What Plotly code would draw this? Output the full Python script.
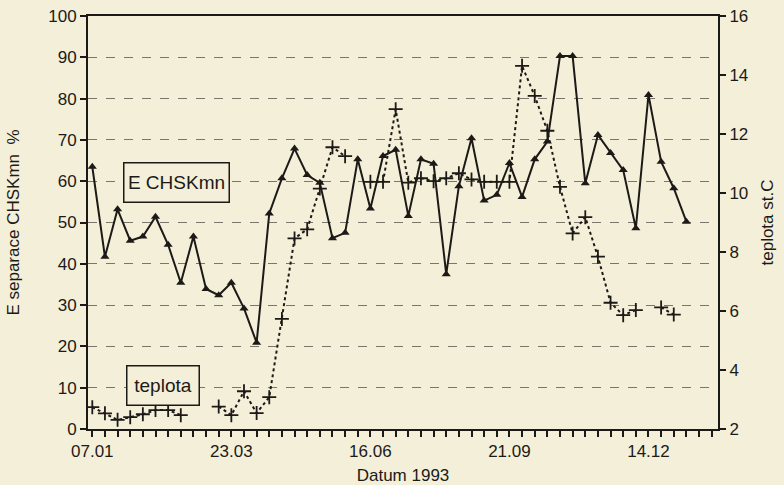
import plotly.graph_objects as go

# ---- data ----
idx = list(range(48))
tick_pos = list(range(50))
tick_labels = {0: "07.01", 11: "23.03", 22: "16.06", 33: "21.09", 44: "14.12"}

e_separace = [63.5, 41.7, 53.2, 45.6, 46.6, 51.4, 44.6, 35.4, 46.6, 33.9,
              32.4, 35.4, 29.2, 20.9, 52.2, 60.7, 67.9, 61.5, 59.6, 46.2,
              47.5, 65.3, 53.4, 66.1, 67.6, 51.6, 65.3, 64.2, 37.5, 58.8,
              70.4, 55.3, 56.7, 64.4, 56.2, 65.3, 69.6, 90.3, 90.3, 59.5,
              71.2, 66.8, 62.7, 48.6, 80.9, 64.7, 58.3, 50.2]

teplota = [2.74, 2.53, 2.31, 2.40, 2.50, 2.64, 2.64, 2.47, None, None,
           2.76, 2.47, 3.28, 2.54, 3.08, 5.73, 8.46, 8.77, 10.15, 11.55,
           11.25, None, 10.38, 10.38, 12.84, 10.35, 10.50, 10.40, 10.50, 10.67,
           10.46, 10.38, 10.38, 10.38, 14.31, 13.29, 12.11, 10.21, 8.63, 9.18,
           7.84, 6.28, 5.86, 6.03, None, 6.12, 5.88, None]

INK = "#1c1a17"
PAPER = "#f4efd9"
FONT = "Liberation Sans, Arial, sans-serif"

fig = go.Figure()
fig.add_trace(go.Scatter(
    x=idx, y=e_separace, mode="lines+markers", name="E CHSKmn",
    line=dict(color=INK, width=2),
    marker=dict(symbol="triangle-up", size=8, color=INK),
    yaxis="y", showlegend=False))
fig.add_trace(go.Scatter(
    x=idx, y=teplota, mode="lines+markers", name="teplota",
    line=dict(color=INK, width=2, dash="dot"),
    marker=dict(symbol="cross-thin", size=10, line=dict(width=1.8, color=INK)),
    connectgaps=False, yaxis="y2", showlegend=False))

fig.update_layout(
    width=784, height=485,
    margin=dict(l=88, r=66, t=16, b=56),
    paper_bgcolor=PAPER, plot_bgcolor=PAPER,
    font=dict(family=FONT, size=17, color=INK),
    xaxis=dict(
        range=[-0.34, 49.5], automargin=False,
        tickmode="array", tickvals=tick_pos,
        ticktext=[tick_labels.get(i, "") for i in tick_pos],
        ticks="outside", ticklen=6, tickwidth=1.5, tickcolor=INK,
        showline=True, linecolor=INK, linewidth=2, mirror=True,
        showgrid=False, zeroline=False,
        title=dict(text="Datum 1993", font=dict(size=17), standoff=9),
    ),
    yaxis=dict(
        range=[0, 100], dtick=10, automargin=False,
        ticks="outside", ticklen=6, tickwidth=1.5, tickcolor=INK,
        showline=True, linecolor=INK, linewidth=2,
        showgrid=True, gridcolor="#7a766b", gridwidth=1, griddash="dash",
        zeroline=False,
        title=dict(text="E separace CHSKmn  %", font=dict(size=17), standoff=24),
    ),
    yaxis2=dict(
        range=[2, 16], dtick=2, overlaying="y", side="right", automargin=False,
        ticks="outside", ticklen=6, tickwidth=1.5, tickcolor=INK,
        showline=True, linecolor=INK, linewidth=2,
        showgrid=False, zeroline=False,
        title=dict(text="teplota st.C", font=dict(size=17), standoff=14),
    ),
    annotations=[
        dict(x=6.63, y=59.6, xref="x", yref="y", text="E CHSKmn",
             showarrow=False, font=dict(size=19, color=INK),
             bordercolor=INK, borderwidth=1.5, borderpad=2,
             width=100, height=34, bgcolor=PAPER),
        dict(x=5.57, y=10.65, xref="x", yref="y", text="teplota",
             showarrow=False, font=dict(size=19, color=INK),
             bordercolor=INK, borderwidth=1.5, borderpad=2,
             width=67, height=34, bgcolor=PAPER),
    ],
)

fig.write_html(
    "out.html",
    config={"displayModeBar": False},
    post_script="document.body.style.margin='0';document.body.style.background='" + PAPER + "';",
)
